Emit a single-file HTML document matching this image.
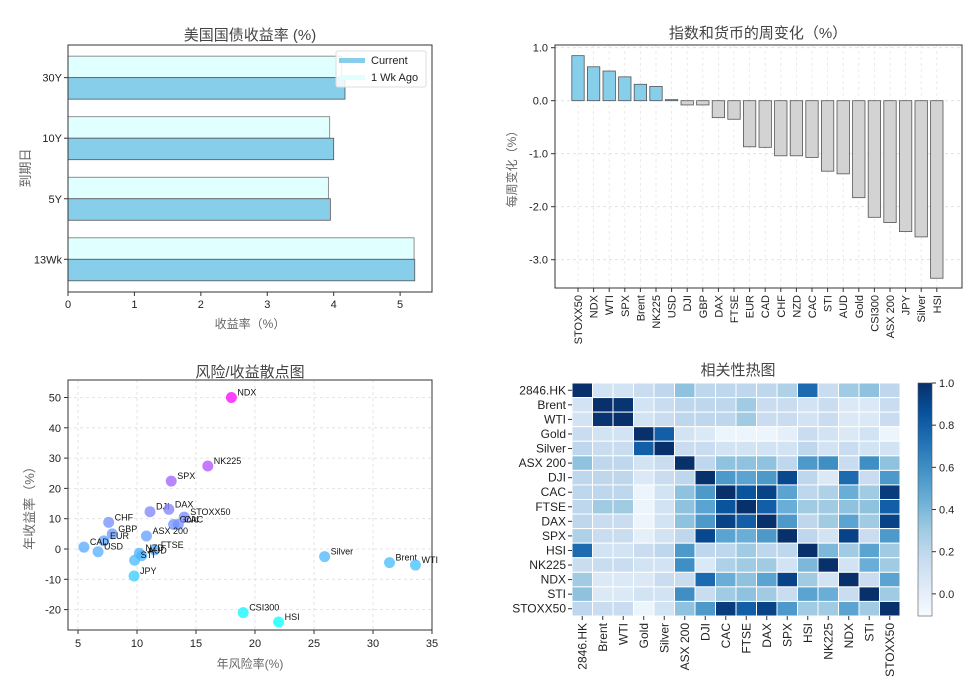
<!DOCTYPE html>
<html><head><meta charset="utf-8">
<style>
body{margin:0;background:#fff;}
svg{display:block;font-family:"Liberation Sans","Noto Sans CJK SC",sans-serif;}
.tk{font-size:11px;fill:#222;}
.ttl{font-size:15px;fill:#444;}
.lbl{font-size:12px;fill:#666;}
</style></head>
<body>
<svg id="s" width="975" height="684" viewBox="0 0 975 684"></svg>
<script>
// ---- data ----
const bondCats=["13Wk","5Y","10Y","30Y"];
const bondCurrent=[5.22,3.95,4.0,4.17];
const bondWkAgo=[5.21,3.92,3.94,4.12];

const chgCats=["STOXX50","NDX","WTI","SPX","Brent","NK225","USD","DJI","GBP","DAX","FTSE","EUR","CAD","CHF","NZD","CAC","STI","AUD","Gold","CSI300","ASX 200","JPY","Silver","HSI"];
const chgVals=[0.85,0.64,0.56,0.45,0.31,0.27,0.02,-0.08,-0.08,-0.32,-0.35,-0.87,-0.88,-1.04,-1.04,-1.07,-1.33,-1.38,-1.83,-2.2,-2.3,-2.47,-2.57,-3.35];
const chgTicks=[1,0,-1,-2,-3];

const scNames=["NDX","NK225","SPX","DJI","DAX","STOXX50","Gold","CAC","CHF","GBP","EUR","ASX 200","CAD","USD","FTSE","NZD","AUD","STI","JPY","Silver","Brent","WTI","CSI300","HSI"];
const scRisk=[18.0,16.0,12.9,11.1,12.7,14.0,13.1,13.5,7.6,7.9,7.2,10.8,5.5,6.7,11.5,10.2,10.4,9.8,9.75,25.9,31.4,33.6,19.0,22.0];
const scRet=[50,27.4,22.4,12.3,13.1,10.5,8.1,8.1,8.8,5.0,2.7,4.3,0.6,-0.9,-0.3,-1.4,-2.2,-3.7,-8.9,-2.5,-4.5,-5.3,-21,-24.1];
const scXTicks=[5,10,15,20,25,30,35];
const scYTicks=[50,40,30,20,10,0,-10,-20];

const hmLabels=["2846.HK","Brent","WTI","Gold","Silver","ASX 200","DJI","CAC","FTSE","DAX","SPX","HSI","NK225","NDX","STI","STOXX50"];
const hmRow0=[1,.1,.1,.15,.2,.35,.2,.2,.2,.2,.25,.75,.15,.3,.35,.2];
const hmRow1=[.1,1,.98,.1,.15,.2,.2,.2,.3,.15,.15,.1,.15,.05,.05,.15];
const hmRow2=[.1,.98,1,.1,.15,.2,.2,.2,.3,.15,.15,.1,.15,.05,.05,.15];
const hmRow3=[.15,.1,.1,1,.8,.1,.05,-.05,-.05,-.05,0,.15,.1,.05,.1,-.05];
const hmRow4=[.2,.15,.15,.8,1,.15,.15,.1,.1,.1,.1,.2,.1,.15,.1,.1];
const hmRow5=[.35,.2,.2,.1,.15,1,.2,.35,.35,.35,.2,.55,.6,.15,.6,.35];
const hmRow6=[.2,.2,.2,.05,.15,.2,1,.55,.5,.55,.9,.2,.05,.75,.15,.55];
const hmRow7=[.2,.2,.2,-.05,.1,.35,.55,1,.85,.92,.5,.2,.25,.45,.3,.95];
const hmRow8=[.2,.3,.3,-.05,.1,.35,.5,.85,1,.8,.45,.3,.3,.35,.35,.8];
const hmRow9=[.2,.15,.15,-.05,.1,.35,.55,.92,.8,1,.55,.2,.3,.5,.3,.92];
const hmRow10=[.25,.15,.15,0,.1,.2,.9,.5,.45,.55,1,.2,.1,.92,.15,.55];
const hmRow11=[.75,.1,.1,.15,.2,.55,.2,.2,.3,.2,.2,1,.4,.3,.5,.3];
const hmRow12=[.15,.15,.15,.1,.1,.6,.05,.25,.3,.3,.1,.4,1,.1,.45,.3];
const hmRow13=[.3,.05,.05,.05,.15,.15,.75,.45,.35,.5,.92,.3,.1,1,.15,.5];
const hmRow14=[.35,.05,.05,.1,.1,.6,.15,.3,.35,.3,.15,.5,.45,.15,1,.3];
const hmRow15=[.2,.15,.15,-.05,.1,.35,.55,.95,.8,.92,.55,.3,.3,.5,.3,1];
const hmMatrix=[hmRow0,hmRow1,hmRow2,hmRow3,hmRow4,hmRow5,hmRow6,hmRow7,hmRow8,hmRow9,hmRow10,hmRow11,hmRow12,hmRow13,hmRow14,hmRow15];
const cbTicks=[1.0,0.8,0.6,0.4,0.2,0.0];

// ---- helpers ----
const S=document.getElementById('s');
const NS="http://www.w3.org/2000/svg";
function mk(tag,attrs,parent,txt){const e=document.createElementNS(NS,tag);for(const k in attrs)e.setAttribute(k,attrs[k]);if(txt!==undefined)e.textContent=txt;(parent||S).appendChild(e);return e;}
function grp(name){const g=mk('g',{});


return g;}

// ===== Chart 1: bond yields =====
(function(){
const g=grp('bond-yield-chart');
const L=68,R=432,T=45,B=292;
const xs=v=>L+(v-0)*(R-L)/5.48;
const ys=i=>259.3-i*60.55;
const bh=21.5;
bondCats.forEach((c,i)=>{
 const cy=ys(i);
 const r1=mk('rect',{x:L,y:cy-bh,width:xs(bondWkAgo[i])-L,height:bh,fill:'#e0ffff',stroke:'#777','stroke-width':0.8},g);
 
 
 const r2=mk('rect',{x:L,y:cy,width:xs(bondCurrent[i])-L,height:bh,fill:'#87ceeb',stroke:'#555','stroke-width':0.8},g);
 
 
 mk('line',{x1:L-4,x2:L,y1:cy,y2:cy,stroke:'#333'},g);
 const t=mk('text',{x:L-6,y:cy+4,'text-anchor':'end',class:'tk'},g,c);
 
 
});
[0,1,2,3,4,5].forEach(v=>{const x=xs(v);mk('line',{x1:x,x2:x,y1:B,y2:B+4,stroke:'#333'},g);mk('text',{x:x,y:B+16,'text-anchor':'middle',class:'tk'},g,v);});
mk('rect',{x:L,y:T,width:R-L,height:B-T,fill:'none',stroke:'#333','stroke-width':1},g);
// legend
const lg=mk('g',{},g);


mk('rect',{x:336,y:51,width:90,height:36,fill:'#fff','fill-opacity':0.85,stroke:'#ddd',rx:2},lg);
mk('rect',{x:339,y:58,width:26,height:5,fill:'#87ceeb'},lg);
mk('text',{x:371,y:64,class:'tk'},lg,'Current');
mk('rect',{x:339,y:75,width:26,height:5,fill:'#e0ffff'},lg);
mk('text',{x:371,y:81,class:'tk'},lg,'1 Wk Ago');
const tt=mk('text',{x:250,y:40,'text-anchor':'middle',class:'ttl'},g,'美国国债收益率 (%)');


mk('text',{x:250,y:328,'text-anchor':'middle',class:'lbl'},g,'收益率（%）');
mk('text',{x:30,y:168,'text-anchor':'middle',class:'lbl',transform:'rotate(-90 30 168)',style:'font-size:13px'},g,'到期日');
})();

// ===== Chart 2: weekly change =====
(function(){
const g=grp('weekly-change-chart');
const L=555,R=962,T=45,B=288;
const x0=578,dx=15.6;
const xs=i=>x0+i*dx;
const ys=v=>100.7-v*53;
chgTicks.forEach(v=>{const y=ys(v);mk('line',{x1:L,x2:R,y1:y,y2:y,stroke:'#ddd','stroke-dasharray':'3,3','stroke-width':0.8},g);mk('line',{x1:L-4,x2:L,y1:y,y2:y,stroke:'#333'},g);mk('text',{x:L-7,y:y+4,'text-anchor':'end',class:'tk'},g,v.toFixed(1));});
chgCats.forEach((c,i)=>{const x=xs(i);mk('line',{x1:x,x2:x,y1:T,y2:B,stroke:'#e6e6e6','stroke-dasharray':'3,3','stroke-width':0.8},g);});
chgCats.forEach((c,i)=>{
 const v=chgVals[i],x=xs(i),y0=ys(0),y1=ys(v);
 const r=mk('rect',{x:x-6.2,y:Math.min(y0,y1),width:12.4,height:Math.abs(y1-y0),fill:v>=0?'#87ceeb':'#d3d3d3',stroke:'#555','stroke-width':0.8},g);
 
 
 mk('line',{x1:x,x2:x,y1:B,y2:B+4,stroke:'#333'},g);
 mk('text',{x:x+4,y:B+7,'text-anchor':'end',class:'tk',transform:`rotate(-90 ${x+4} ${B+7})`},g,c);
});
mk('rect',{x:L,y:T,width:R-L,height:B-T,fill:'none',stroke:'#333'},g);
mk('text',{x:758,y:38,'text-anchor':'middle',class:'ttl'},g,'指数和货币的周变化（%）');
mk('text',{x:516,y:166,'text-anchor':'middle',class:'lbl',transform:'rotate(-90 516 166)'},g,'每周变化（%）');
})();

// ===== Chart 3: scatter =====
(function(){
const g=grp('risk-return-scatter');
const L=68,R=432,T=380,B=630;
const xs=v=>78+(v-5)*11.8;
const ys=v=>549-v*3.03;
scXTicks.forEach(v=>{const x=xs(v);mk('line',{x1:x,x2:x,y1:T,y2:B,stroke:'#ddd','stroke-dasharray':'3,3','stroke-width':0.8},g);mk('line',{x1:x,x2:x,y1:B,y2:B+4,stroke:'#333'},g);mk('text',{x:x,y:B+17,'text-anchor':'middle',class:'tk'},g,v);});
scYTicks.forEach(v=>{const y=ys(v);mk('line',{x1:L,x2:R,y1:y,y2:y,stroke:'#ddd','stroke-dasharray':'3,3','stroke-width':0.8},g);mk('line',{x1:L-4,x2:L,y1:y,y2:y,stroke:'#333'},g);mk('text',{x:L-7,y:y+4,'text-anchor':'end',class:'tk'},g,v);});
const mn=Math.min(...scRet),mx=Math.max(...scRet);
scNames.forEach((n,i)=>{
 const t=(scRet[i]-mn)/(mx-mn);
 const col=`rgb(${Math.round(255*t)},${Math.round(255*(1-t))},255)`;
 const c=mk('circle',{cx:xs(scRisk[i]),cy:ys(scRet[i]),r:5.5,fill:col,'fill-opacity':0.75},g);
 
 
 mk('text',{x:xs(scRisk[i])+6,y:ys(scRet[i])-2,style:'font-size:9px',fill:'#111'},g,n);
});
mk('rect',{x:L,y:T,width:R-L,height:B-T,fill:'none',stroke:'#333'},g);
mk('text',{x:250,y:377,'text-anchor':'middle',class:'ttl'},g,'风险/收益散点图');
mk('text',{x:250,y:668,'text-anchor':'middle',class:'lbl'},g,'年风险率(%)');
mk('text',{x:34,y:505,'text-anchor':'middle',class:'lbl',transform:'rotate(-90 34 505)',style:'font-size:13px'},g,'年收益率（%）');
})();

// ===== Chart 4: heatmap =====
(function(){
const g=grp('correlation-heatmap');
const L=572,R=900,T=383,B=616;
const n=hmLabels.length,cw=(R-L)/n,ch=(B-T)/n;
const stops=['#f7fbff','#deebf7','#c6dbef','#9ecae1','#6baed6','#4292c6','#2171b5','#08519c','#08306b'];
const vmin=-0.105,vmax=1;
function hex(h){return [1,3,5].map(k=>parseInt(h.substr(k,2),16));}
function color(v){let t=(v-vmin)/(vmax-vmin);t=Math.max(0,Math.min(1,t));const p=t*8,i=Math.min(7,Math.floor(p)),f=p-i;const a=hex(stops[i]),b=hex(stops[i+1]);return `rgb(${a.map((x,k)=>Math.round(x+(b[k]-x)*f)).join(',')})`;}
hmMatrix.forEach((row,r)=>row.forEach((v,c)=>{
 const e=mk('rect',{x:L+c*cw,y:T+r*ch,width:cw,height:ch,fill:color(v),stroke:'#fff','stroke-width':1},g);
 
 
}));
hmLabels.forEach((lab,i)=>{
 const y=T+(i+0.5)*ch;mk('line',{x1:L-4,x2:L,y1:y,y2:y,stroke:'#333'},g);mk('text',{x:L-6,y:y+4,'text-anchor':'end',class:'tk',style:'font-size:12px'},g,lab);
 const x=L+(i+0.5)*cw;mk('line',{x1:x,x2:x,y1:B,y2:B+4,stroke:'#333'},g);mk('text',{x:x+4,y:B+7,'text-anchor':'end',class:'tk',style:'font-size:12px',transform:`rotate(-90 ${x+4} ${B+7})`},g,lab);
});
// colorbar
const cb=mk('g',{},g);


const CX=918,CW=14;
for(let k=0;k<100;k++){const v=vmax-(k+0.5)*(vmax-vmin)/100;mk('rect',{x:CX,y:T+k*(B-T)/100,width:CW,height:(B-T)/100+0.6,fill:color(v)},cb);}
mk('rect',{x:CX,y:T,width:CW,height:B-T,fill:'none',stroke:'#555','stroke-width':0.6},cb);
cbTicks.forEach(v=>{const y=T+(vmax-v)/(vmax-vmin)*(B-T);mk('line',{x1:CX+CW,x2:CX+CW+4,y1:y,y2:y,stroke:'#333'},cb);mk('text',{x:CX+CW+7,y:y+4,class:'tk'},cb,v.toFixed(1));});
mk('text',{x:738,y:375,'text-anchor':'middle',class:'ttl'},g,'相关性热图');
})();
</script>
</body></html>
